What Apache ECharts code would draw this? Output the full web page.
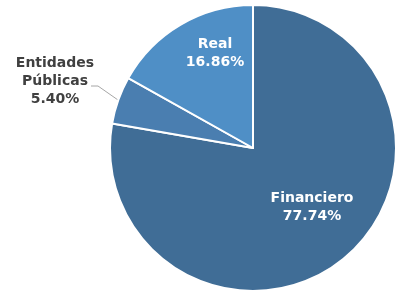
<!DOCTYPE html>
<html><head><meta charset="utf-8">
<script src="https://cdn.jsdelivr.net/npm/echarts@6/dist/echarts.min.js"></script>
<style>html,body{margin:0;padding:0;background:#fff}#c{width:399px;height:293px}</style>
</head><body><div id="c"></div>
<script>
var categories = ['Financiero', 'Entidades\nPúblicas', 'Real'];
var values = [77.74, 5.40, 16.86];
var colors = ['#406D96', '#4A7EB0', '#4F8FC6'];

var chart = echarts.init(document.getElementById('c'), null, {renderer: 'canvas'});
var data = categories.map(function (c, i) {
  var item = {name: c, value: values[i], itemStyle: {color: colors[i]}};
  if (i === 1) {
    item.label = {position: 'outside', color: '#404040'};
    item.labelLine = {show: true, length: 12, length2: 8, lineStyle: {color: '#A6A6A6', width: 1}};
  } else {
    item.label = {position: 'inside', color: '#FFFFFF'};
    item.labelLine = {show: false};
  }
  return item;
});

chart.setOption({
  animation: false,
  series: [{
    type: 'pie',
    center: [253, 148],
    radius: [0, 143],
    startAngle: 90,
    clockwise: true,
    data: data,
    itemStyle: {borderColor: '#FFFFFF', borderWidth: 2},
    label: {
      show: true,
      fontFamily: 'DejaVu Sans',
      fontWeight: 'bold',
      fontSize: 14,
      lineHeight: 18,
      align: 'center',
      formatter: function (p) { return p.name + '\n' + p.value.toFixed(2) + '%'; }
    },
    labelLayout: function (p) {
      if (p.dataIndex === 0) return {x: 312, y: 207, align: 'center', verticalAlign: 'middle'};
      if (p.dataIndex === 2) return {x: 215, y: 53, align: 'center', verticalAlign: 'middle'};
      return {x: 55, y: 81, align: 'center', verticalAlign: 'middle',
        labelLinePoints: [[118, 100], [98, 86], [91, 86]]};
    }
  }]
});
</script></body></html>
